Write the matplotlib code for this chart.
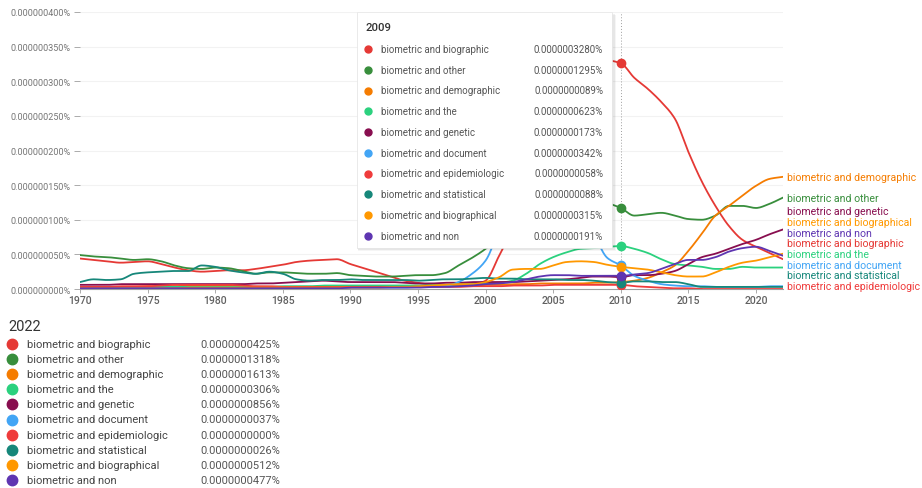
import matplotlib
matplotlib.use("Agg")
import matplotlib.pyplot as plt
from matplotlib.lines import Line2D
from matplotlib.patches import Rectangle
from matplotlib.ticker import FuncFormatter
import matplotlib.transforms as mtransforms
import numpy as np

plt.rcParams['font.family'] = ['Roboto', 'DejaVu Sans']

W, H = 922, 489

# --- data (units of 1e-9 %) ---
years = list(range(1970, 2023))

names = ["biometric and biographic", "biometric and other", "biometric and demographic",
         "biometric and the", "biometric and genetic", "biometric and document",
         "biometric and epidemiologic", "biometric and statistical",
         "biometric and biographical", "biometric and non"]
colors = ["#e53935", "#388e3c", "#f57c00", "#2bd17e", "#880e4f",
          "#42a5f5", "#ef3b3b", "#16877a", "#ff9800", "#5e35b1"]

biographic = [44, 42, 40, 38, 39, 40, 36, 31, 27, 25,
              26, 27, 27, 29, 32, 35, 39, 41, 42, 43,
              36, 30, 24, 18, 12, 9, 6, 5, 5, 6,
              12, 48, 87, 130, 175, 220, 262, 298, 320, 330,
              326, 305, 289, 270, 246, 198, 155, 120, 91, 71,
              61, 52, 43]
other = [49, 47, 46, 44, 42, 43, 40, 34, 30, 29,
         31, 30, 26, 22, 24, 24, 23, 22, 22, 23,
         20, 19, 18, 18, 19, 20, 20, 23, 34, 45,
         58, 75, 95, 110, 120, 125, 128, 130, 128, 124,
         117, 106, 108, 110, 106, 101, 100, 106, 120, 120,
         117, 123, 132]
demographic = [3, 3, 3, 3, 3, 4, 4, 4, 5, 5,
               5, 5, 4, 3, 3, 3, 3, 3, 3, 3,
               3, 3, 3, 3, 3, 4, 4, 4, 5, 5,
               6, 6, 7, 7, 8, 8, 8, 8, 9, 9,
               10, 12, 16, 24, 34, 55, 80, 106, 120, 135,
               149, 159, 162]
the = [2, 2, 2, 2, 2, 3, 3, 3, 3, 3,
       3, 3, 3, 3, 3, 4, 4, 4, 5, 5,
       5, 5, 5, 5, 5, 5, 6, 6, 7, 7,
       8, 9, 12, 22, 36, 46, 53, 58, 59, 61,
       62, 58, 52, 43, 36, 34, 32, 29, 29, 32,
       31, 31, 31]
genetic = [6, 6, 6, 7, 7, 7, 7, 7, 7, 7,
           7, 7, 7, 8, 8, 9, 10, 11, 12, 11,
           10, 10, 10, 10, 9, 8, 8, 9, 9, 10,
           10, 10, 10, 11, 12, 13, 14, 16, 18, 18,
           17, 20, 20, 22, 26, 36, 46, 51, 58, 65,
           71, 79, 86]
document = [1, 1, 1, 1, 1, 1, 1, 1, 1, 1,
            1, 1, 1, 1, 1, 1, 1, 2, 2, 2,
            2, 2, 2, 2, 2, 3, 3, 4, 10, 22,
            41, 87, 140, 180, 200, 200, 180, 135, 82, 45,
            34, 19, 12, 7, 5, 4, 4, 3, 3, 3,
            3, 4, 4]
epidemiologic = [3, 3, 3, 4, 4, 4, 5, 6, 6, 6,
                 6, 6, 5, 4, 4, 3, 3, 3, 3, 3,
                 3, 3, 3, 3, 3, 3, 3, 3, 3, 4,
                 4, 4, 5, 5, 5, 6, 6, 6, 6, 6,
                 6, 4, 3, 2, 1, 1, 0, 0, 0, 0,
                 0, 0, 0]
statistical = [10, 14, 13, 14, 22, 24, 25, 26, 26, 34,
               32, 27, 24, 22, 25, 22, 14, 12, 13, 13,
               14, 13, 13, 13, 13, 12, 13, 14, 14, 15,
               16, 15, 15, 14, 14, 14, 13, 13, 12, 10,
               9, 11, 11, 10, 10, 7, 3, 3, 3, 3,
               3, 3, 3]
biographical = [1, 1, 1, 1, 1, 1, 1, 1, 2, 2,
                2, 2, 2, 2, 2, 2, 2, 2, 2, 2,
                2, 2, 2, 3, 3, 4, 5, 6, 7, 7,
                10, 17, 28, 29, 29, 34, 39, 40, 39, 35,
                32, 30, 28, 24, 20, 18, 18, 24, 32, 38,
                41, 46, 51]
non = [1, 1, 1, 1, 1, 1, 1, 1, 1, 1,
       1, 1, 1, 1, 1, 1, 1, 1, 1, 1,
       2, 2, 2, 2, 2, 2, 3, 3, 4, 5,
       7, 8, 10, 14, 18, 20, 20, 19, 19, 19,
       19, 21, 23, 29, 36, 42, 42, 46, 54, 59,
       61, 55, 48]

series = [biographic, other, demographic, the, genetic,
          document, epidemiologic, statistical, biographical, non]

hover_year = 2009
values_2009 = [328.0, 129.5, 8.9, 62.3, 17.3, 34.2, 5.8, 8.8, 31.5, 19.1]
values_2022 = [42.5, 131.8, 161.3, 30.6, 85.6, 3.7, 0.0, 2.6, 51.2, 47.7]


def fx(x):
    return x / W


def fy(y):
    return 1 - y / H


def smooth(x, y, n=10):
    # monotone cubic curve through the yearly points, for drawing only
    x = np.asarray(x, float)
    y = np.asarray(y, float)
    h = np.diff(x)
    d = np.diff(y) / h
    m = np.zeros_like(y)
    m[0], m[-1] = d[0], d[-1]
    for k in range(1, len(y) - 1):
        if d[k - 1] * d[k] > 0:
            w1 = 2 * h[k] + h[k - 1]
            w2 = h[k] + 2 * h[k - 1]
            m[k] = (w1 + w2) / (w1 / d[k - 1] + w2 / d[k])
    xs, ys = [], []
    t = np.linspace(0, 1, n, endpoint=False)
    for k in range(len(x) - 1):
        h00 = 2 * t**3 - 3 * t**2 + 1
        h10 = t**3 - 2 * t**2 + t
        h01 = -2 * t**3 + 3 * t**2
        h11 = t**3 - t**2
        xs.append(x[k] + t * h[k])
        ys.append(h00 * y[k] + h10 * h[k] * m[k] + h01 * y[k + 1] + h11 * h[k] * m[k + 1])
    xs.append([x[-1]])
    ys.append([y[-1]])
    return np.concatenate(xs), np.concatenate(ys)


fig = plt.figure(figsize=(W / 100, H / 100), dpi=100)
ax = fig.add_axes([fx(80), fy(290), (783 - 80) / W, (290 - 13) / H])

for s, c in zip(series, colors):
    sx, sy = smooth(years, s)
    ax.plot(sx, sy, color=c, lw=1.3, solid_capstyle='round')

ax.set_xlim(1970, 2022)
ax.set_ylim(0, 400)
ax.set_yticks(range(0, 401, 50))
ax.set_xticks(range(1970, 2021, 5))
ax.yaxis.set_major_formatter(FuncFormatter(lambda v, p: f"{v * 1e-9:.9f}%"))
ax.grid(axis='y', color='#f2f2f2', lw=0.8)
ax.set_axisbelow(True)
for sp in ['top', 'right', 'left']:
    ax.spines[sp].set_visible(False)
ax.spines['bottom'].set_color('#9e9e9e')
ax.spines['bottom'].set_linewidth(0.8)
ax.tick_params(axis='y', length=4, width=0.6, color='#9e9e9e', labelcolor='#757575',
               labelsize=6.5, pad=3)
ax.tick_params(axis='x', length=3, width=0.6, color='#9e9e9e', labelcolor='#616161',
               labelsize=7.5, pad=1)
for lab in ax.get_xticklabels():
    lab.set_fontweight('medium')

# hover marker (drawn one step right, as in the viewer)
hx = 2010
hi = years.index(hx)
ax.axvline(hx, color='#9e9e9e', ls=(0, (1, 2)), lw=0.7)
for s, c in zip(series, colors):
    ax.plot([hx], [s[hi]], 'o', color=c, ms=6, zorder=5)

# end labels, spaced so they do not overlap
gap = 15.5
order = sorted(range(len(series)), key=lambda i: series[i][-1])
label_y = {}
prev = None
for i in order:
    y = max(series[i][-1], 4)
    if prev is not None:
        y = max(y, prev + gap)
    label_y[i] = y
    prev = y
off = mtransforms.offset_copy(ax.transData, fig=fig, x=4, y=0, units='dots')
for i in range(len(series)):
    ax.text(2022, label_y[i], names[i], color=colors[i], fontsize=7.6,
            va='center', ha='left', transform=off, clip_on=False)

# tooltip box
for k, a in [(3, 0.04), (2, 0.06), (1, 0.08)]:
    fig.add_artist(Rectangle((fx(357 + k * 0.3), fy(249 + k)), (612 - 357 + k) / W, (249 - 13) / H,
                             transform=fig.transFigure, fc='black', alpha=a, lw=0, zorder=9))
fig.add_artist(Rectangle((fx(357), fy(249)), (612 - 357) / W, (249 - 13) / H,
                         transform=fig.transFigure, fc='white', ec='#e6e6e6', lw=0.5, zorder=10))
fig.text(fx(365), fy(28), str(hover_year), fontsize=8.2, fontweight='medium', color='#333333',
         va='center', zorder=11)
for i, name in enumerate(names):
    y = 50 + i * 20.75
    fig.add_artist(Line2D([fx(368)], [fy(y)], marker='o', ms=5, color=colors[i], lw=0,
                          transform=fig.transFigure, zorder=11))
    fig.text(fx(381), fy(y), name, fontsize=7, color='#555555', va='center', zorder=11)
    fig.text(fx(603), fy(y), f"{values_2009[i] * 1e-9:.10f}%", fontsize=7, color='#555555',
             va='center', ha='right', zorder=11)

# bottom legend for 2022
fig.text(fx(8), fy(327), "2022", fontsize=10.5, color='#333333', va='center')
for i, name in enumerate(names):
    y = 344.5 + i * 15.2
    fig.add_artist(Line2D([fx(12)], [fy(y)], marker='o', ms=7.5, color=colors[i], lw=0,
                          transform=fig.transFigure))
    fig.text(fx(27), fy(y), name, fontsize=8, color='#444444', va='center')
    fig.text(fx(200), fy(y), f"{values_2022[i] * 1e-9:.10f}%", fontsize=8, color='#555555',
             va='center')

fig.savefig("out.png", dpi=100)
